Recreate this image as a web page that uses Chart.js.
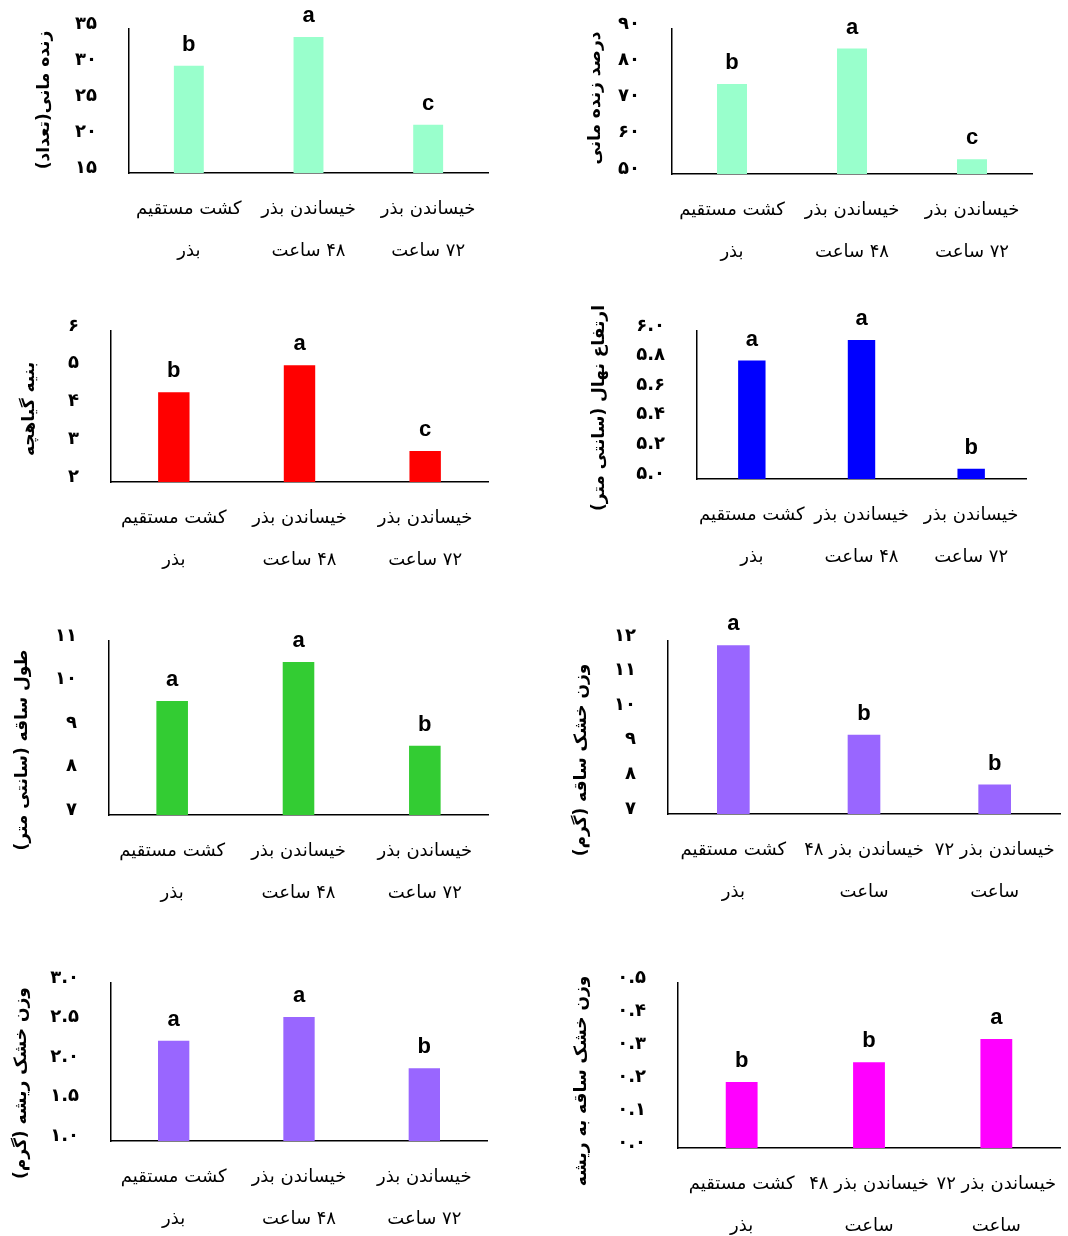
<!DOCTYPE html>
<html>
<head>
<meta charset="utf-8">
<script src="https://cdn.jsdelivr.net/npm/chart.js@4.4.1/dist/chart.umd.min.js"></script>
<style>
body{margin:0;background:#fff;}
#wrap{position:relative;width:1068px;height:1236px;}
#wrap canvas{position:absolute;left:0;top:0;direction:rtl;}
</style>
</head>
<body>
<div id="wrap"></div>
<script>
// ========== Data ==========
const categories=[['کشت مستقیم','بذر'],['خیساندن بذر','۴۸ ساعت'],['خیساندن بذر','۷۲ ساعت']];
const categoriesWide=[['کشت مستقیم','بذر'],['خیساندن بذر ۴۸','ساعت'],['خیساندن بذر ۷۲','ساعت']];

const survivalCount=[29.9,33.9,21.7];
const survivalPct=[74.8,84.6,54.1];
const seedlingVigor=[4.38,5.09,2.82];
const seedlingHeight=[5.80,5.94,5.07];
const stemLength=[9.62,10.52,8.59];
const stemDryWeight=[11.88,9.29,7.85];
const rootDryWeight=[2.27,2.57,1.92];
const stemRootRatio=[0.20,0.26,0.33];

const survivalCountLetters=['b','a','c'];
const survivalPctLetters=['b','a','c'];
const seedlingVigorLetters=['b','a','c'];
const seedlingHeightLetters=['a','a','b'];
const stemLengthLetters=['a','a','b'];
const stemDryWeightLetters=['a','b','b'];
const rootDryWeightLetters=['a','a','b'];
const stemRootRatioLetters=['b','b','a'];

const survivalCountTicks=['۱۵','۲۰','۲۵','۳۰','۳۵'];
const survivalPctTicks=['۵۰','۶۰','۷۰','۸۰','۹۰'];
const seedlingVigorTicks=['۲','۳','۴','۵','۶'];
const seedlingHeightTicks=['۵.۰','۵.۲','۵.۴','۵.۶','۵.۸','۶.۰'];
const stemLengthTicks=['۷','۸','۹','۱۰','۱۱'];
const stemDryWeightTicks=['۷','۸','۹','۱۰','۱۱','۱۲'];
const rootDryWeightTicks=['۱.۰','۱.۵','۲.۰','۲.۵','۳.۰'];
const stemRootRatioTicks=['۰.۰','۰.۱','۰.۲','۰.۳','۰.۴','۰.۵'];

// ========== Panels ==========
// area = [left, top, right, bottom] of the plot in page pixels; title = centre of the y title
const panels=[
  {values:survivalCount,letters:survivalCountLetters,labels:categories,ticks:survivalCountTicks,min:15,max:35,step:5,
   title:'زنده مانی(تعداد)',color:'#99FFCC',area:[129,29,488,173],titleAt:[45,100]},
  {values:survivalPct,letters:survivalPctLetters,labels:categories,ticks:survivalPctTicks,min:50,max:90,step:10,
   title:'درصد زنده مانی',color:'#99FFCC',area:[672,29,1032,174],titleAt:[596,98]},
  {values:seedlingVigor,letters:seedlingVigorLetters,labels:categories,ticks:seedlingVigorTicks,min:2,max:6,step:1,
   title:'بنیه گیاهچه',color:'#FF0000',area:[111,331,488,482],titleAt:[30,409]},
  {values:seedlingHeight,letters:seedlingHeightLetters,labels:categories,ticks:seedlingHeightTicks,min:5,max:6,step:0.2,
   title:'ارتفاع نهال (سانتی متر)',color:'#0000FF',area:[697,331,1026,479],titleAt:[600,408]},
  {values:stemLength,letters:stemLengthLetters,labels:categories,ticks:stemLengthTicks,min:7,max:11,step:1,
   title:'طول ساقه (سانتی متر)',color:'#33CC33',area:[109,641,488,815],titleAt:[23,750]},
  {values:stemDryWeight,letters:stemDryWeightLetters,labels:categoriesWide,ticks:stemDryWeightTicks,min:7,max:12,step:1,
   title:'وزن خشک ساقه (گرم)',color:'#9966FF',area:[668,641,1060,814],titleAt:[582,760]},
  {values:rootDryWeight,letters:rootDryWeightLetters,labels:categories,ticks:rootDryWeightTicks,min:1,max:3,step:0.5,
   title:'وزن خشک ریشه (گرم)',color:'#9966FF',area:[111,983,487,1141],titleAt:[22,1083]},
  {values:stemRootRatio,letters:stemRootRatioLetters,labels:categoriesWide,ticks:stemRootRatioTicks,min:0,max:0.5,step:0.1,
   title:'وزن خشک ساقه به ریشه',color:'#FF00FF',area:[678,983,1060,1148],titleAt:[582,1081]}
];

const W=1068,H=1236,X_H=88;
const FONT="'DejaVu Sans', sans-serif";

// ========== Significance letters ==========
const letterPlugin={
  id:'letters',
  afterDatasetsDraw(chart,args,opts){
    const ctx=chart.ctx,meta=chart.getDatasetMeta(0);
    ctx.save();
    ctx.font="bold 22px 'Liberation Sans', Arial, sans-serif";
    ctx.fillStyle='#000';
    ctx.textAlign='center';
    ctx.textBaseline='alphabetic';
    ctx.direction='ltr';
    meta.data.forEach((bar,i)=>ctx.fillText(opts.list[i],bar.x,bar.y-15));
    ctx.restore();
  }
};

// ========== Y title (rotated, placed like the original) ==========
const yTitlePlugin={
  id:'ytitle',
  afterDraw(chart,args,opts){
    const ctx=chart.ctx;
    ctx.save();
    ctx.translate(opts.at[0],opts.at[1]);
    ctx.rotate(-Math.PI/2);
    ctx.font="bold 17px "+FONT;
    ctx.fillStyle='#000';
    ctx.textAlign='center';
    ctx.textBaseline='middle';
    ctx.direction='rtl';
    ctx.fillText(opts.text,0,0);
    ctx.restore();
  }
};

// ========== Build charts ==========
const wrap=document.getElementById('wrap');
panels.forEach(p=>{
  const cv=document.createElement('canvas');
  cv.width=W; cv.height=H;
  wrap.appendChild(cv);
  const [L,T,R,B]=p.area;
  new Chart(cv,{
    type:'bar',
    data:{labels:p.labels,datasets:[{data:p.values,backgroundColor:p.color,borderWidth:0,
      categoryPercentage:1,barPercentage:0.25}]},
    options:{
      responsive:false,animation:false,devicePixelRatio:1,
      layout:{padding:{left:0,top:T,right:W-R,bottom:Math.max(H-B-X_H,0)}},
      plugins:{legend:{display:false},tooltip:{enabled:false},
        letters:{list:p.letters},ytitle:{text:p.title,at:p.titleAt}},
      scales:{
        x:{
          grid:{display:false,drawTicks:false},
          border:{display:true,color:'#000',width:1.5},
          ticks:{color:'#000',font:{family:FONT,size:18,lineHeight:2.3},padding:16,
            autoSkip:false,maxRotation:0,minRotation:0},
          afterFit(s){s.height=X_H;s.paddingLeft=0;s.paddingRight=0;}
        },
        y:{
          min:p.min,max:p.max,
          grid:{display:false,drawTicks:false},
          border:{display:true,color:'#000',width:1.5},
          ticks:{stepSize:p.step,color:'#000',font:{family:FONT,size:18,weight:'bold'},padding:32,labelOffset:-5,
            callback:(v,i)=>p.ticks[i]},
          title:{display:false},
          afterFit(s){s.width=L;s.paddingTop=0;s.paddingBottom=0;}
        }
      }
    },
    plugins:[letterPlugin,yTitlePlugin]
  });
});
</script>
</body>
</html>
